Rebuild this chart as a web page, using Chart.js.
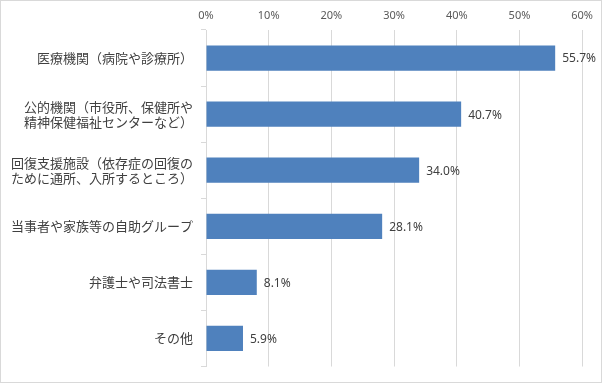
<!DOCTYPE html>
<html><head><meta charset="utf-8">
<script src="https://cdn.jsdelivr.net/npm/chart.js@4"></script>
<style>
html,body{margin:0;padding:0;background:#fff;}
#wrap{width:602px;height:383px;box-sizing:border-box;border:1px solid #d9d9d9;}
canvas{display:block;}
</style></head>
<body><div id="wrap"><canvas id="c" width="600" height="381"></canvas></div>
<script>
const categories = [
  ["医療機関（病院や診療所）"],
  ["公的機関（市役所、保健所や", "精神保健福祉センターなど）"],
  ["回復支援施設（依存症の回復の", "ために通所、入所するところ）"],
  ["当事者や家族等の自助グループ"],
  ["弁護士や司法書士"],
  ["その他"]
];
const values = [55.7, 40.7, 34.0, 28.1, 8.1, 5.9];
const xTicks = [0, 10, 20, 30, 40, 50, 60];

const FONT = '"Noto Sans CJK JP", "Noto Sans", sans-serif';
const NUMFONT = '"Noto Sans", "Liberation Sans", sans-serif';

const valueLabels = {
  id: 'valueLabels',
  afterDatasetsDraw(chart) {
    const ctx = chart.ctx;
    const meta = chart.getDatasetMeta(0);
    ctx.save();
    ctx.font = '12px ' + NUMFONT;
    ctx.fillStyle = '#404040';
    ctx.textAlign = 'left';
    ctx.textBaseline = 'middle';
    meta.data.forEach((bar, i) => {
      ctx.fillText(values[i].toFixed(1) + '%', bar.x + 7, bar.y + 1);
    });
    ctx.restore();
  }
};

new Chart(document.getElementById('c'), {
  type: 'bar',
  data: {
    labels: categories,
    datasets: [{
      data: values,
      backgroundColor: '#4F81BD',
      borderWidth: 0,
      categoryPercentage: 1,
      barPercentage: 0.45
    }]
  },
  options: {
    indexAxis: 'y',
    responsive: false,
    animation: false,
    events: [],
    layout: { padding: { left: 0, right: 17, top: 0, bottom: 8 } },
    plugins: { legend: { display: false }, tooltip: { enabled: false } },
    scales: {
      x: {
        position: 'top',
        min: 0, max: 60,
        afterBuildTicks(scale) { scale.ticks = xTicks.map(v => ({ value: v })); },
        afterFit(scale) { scale.height = 29; },
        grid: { color: '#d9d9d9', drawTicks: false, lineWidth: 1 },
        border: { display: false },
        ticks: {
          padding: 8,
          color: '#595959',
          font: { family: NUMFONT, size: 11 },
          callback: v => v + '%'
        }
      },
      y: {
        afterFit(scale) { scale.width = 205; },
        grid: { drawOnChartArea: false, color: '#d9d9d9', tickLength: 5, offset: true },
        border: { display: true, color: '#d9d9d9' },
        ticks: {
          padding: 8,
          color: '#404040',
          font: { family: FONT, size: 13, lineHeight: 1.15 }
        }
      }
    }
  },
  plugins: [valueLabels]
});
</script></body></html>
